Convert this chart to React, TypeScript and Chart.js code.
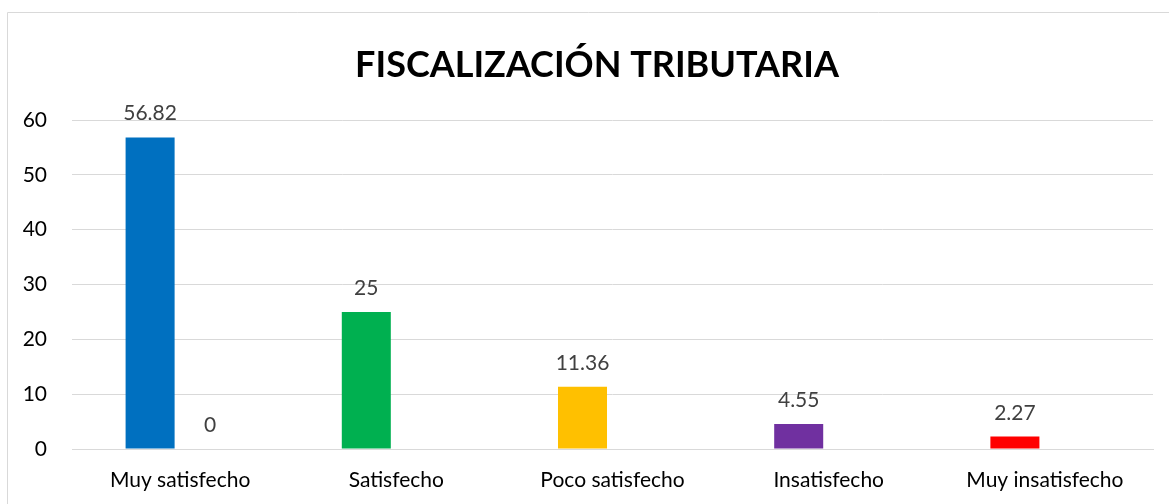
import React, { useEffect, useRef } from "react";
import { Chart, registerables } from "chart.js";

Chart.register(...registerables);

const TITLE = "FISCALIZACIÓN TRIBUTARIA";
const categories = ["Muy satisfecho", "Satisfecho", "Poco satisfecho", "Insatisfecho", "Muy insatisfecho"];
const seriesMain = [56.82, 25, 11.36, 4.55, 2.27];
const seriesSecond: (number | null)[] = [0, null, null, null, null];
const barColors = ["#0070C0", "#00B050", "#FFC000", "#7030A0", "#FF0000"];
const yTicks = [0, 10, 20, 30, 40, 50, 60];

const FONT = "Lato, 'Open Sans', sans-serif";

const decorPlugin = {
  id: "decor",
  beforeDraw(chart: any) {
    const ctx = chart.ctx;
    ctx.save();
    ctx.strokeStyle = "#d9d9d9";
    ctx.lineWidth = 1;
    ctx.beginPath();
    ctx.moveTo(7.5, chart.height);
    ctx.lineTo(7.5, 12.5);
    ctx.lineTo(chart.width, 12.5);
    ctx.stroke();
    ctx.restore();
  },
  afterDraw(chart: any) {
    const ctx = chart.ctx;
    ctx.save();
    ctx.fillStyle = "#000000";
    ctx.font = `bold 36px ${FONT}`;
    ctx.textAlign = "center";
    ctx.textBaseline = "alphabetic";
    ctx.fillText(TITLE, 597, 77);

    ctx.font = `21px ${FONT}`;
    ctx.fillStyle = "#404040";
    chart.data.datasets.forEach((ds: any, di: number) => {
      const meta = chart.getDatasetMeta(di);
      meta.data.forEach((bar: any, i: number) => {
        const v = ds.data[i];
        if (v === null || v === undefined) return;
        ctx.fillText(String(v), bar.x, bar.y - 17);
      });
    });
    ctx.restore();
  },
};

export default function App() {
  const ref = useRef<HTMLCanvasElement>(null);
  useEffect(() => {
    if (!ref.current) return;
    const chart = new Chart(ref.current, {
      type: "bar",
      data: {
        labels: categories,
        datasets: [
          {
            label: "Serie 1",
            data: seriesMain,
            backgroundColor: barColors,
            categoryPercentage: 0.555,
            barPercentage: 0.817,
          },
          {
            label: "Serie 2",
            data: seriesSecond,
            backgroundColor: "#A5A5A5",
            categoryPercentage: 0.555,
            barPercentage: 0.817,
          },
        ],
      },
      options: {
        responsive: false,
        animation: false,
        layout: { padding: { top: 120, right: 16, bottom: 0, left: 0 } },
        plugins: {
          legend: { display: false },
          title: { display: false },
          tooltip: { enabled: false },
        },
        scales: {
          x: {
            grid: { display: false, drawTicks: false },
            border: { display: true, color: "#d9d9d9", width: 1 },
            ticks: { color: "#000000", font: { family: FONT, size: 21 }, padding: 19, maxRotation: 0 },
            afterFit: (s: any) => {
              s.height = 55;
            },
          },
          y: {
            min: 0,
            max: 60,
            afterBuildTicks: (s: any) => {
              s.ticks = yTicks.map((v) => ({ value: v }));
            },
            grid: { color: "#d9d9d9", lineWidth: 1, drawTicks: false },
            border: { display: false },
            ticks: { color: "#000000", font: { family: FONT, size: 21 }, padding: 25 },
            afterFit: (s: any) => {
              s.width = 72;
            },
          },
        },
      },
      plugins: [decorPlugin],
    });
    return () => chart.destroy();
  }, []);

  return (
    <div style={{ position: "absolute", left: 0, top: 0, width: 1169, height: 504, background: "#fff" }}>
      <canvas ref={ref} width={1169} height={504} style={{ display: "block", width: 1169, height: 504 }} />
    </div>
  );
}
